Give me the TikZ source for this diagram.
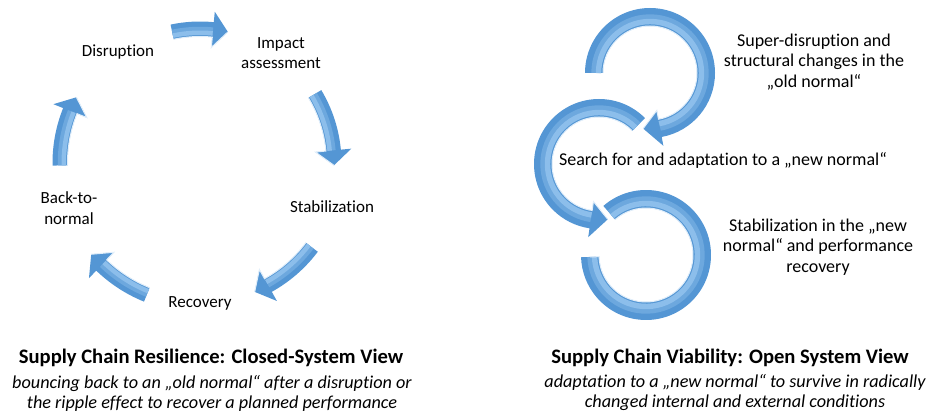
\documentclass[tikz,border=0pt]{standalone}
\usepackage{fontspec}
\setmainfont{Carlito}[Ligatures=NoCommon]
\usepackage{xcolor}
\usepackage{tikz}
\usetikzlibrary{calc,positioning}

\definecolor{arrowblue}{RGB}{84,150,212}
\definecolor{arrowshine}{RGB}{140,190,235}
\definecolor{arrowrim}{RGB}{225,238,250}

\tikzset{
    phase/.style={font=\fontsize{17}{20.5}\selectfont,align=center,inner sep=0pt},
    bigphase/.style={font=\fontsize{18}{20.5}\selectfont,align=center,inner sep=0pt},
    headline/.style={font=\fontsize{20.6}{22}\selectfont\bfseries,inner sep=0pt},
    subline/.style={font=\fontsize{18.2}{20}\selectfont\itshape,align=center,inner sep=0pt}
}

% #1 centre, #2 radius, #3 start angle, #4 tip angle,
% #5 shaft half width, #6 head half width, #7 head length
\newcommand{\bendarrow}[7]{%
    \pgfmathsetmacro{\bdir}{sign(#4-#3)}
    \pgfmathsetmacro{\bbase}{#4-\bdir*#7*180/(pi*#2)}
    \pgfmathsetmacro{\bout}{#2+#5}
    \pgfmathsetmacro{\bin}{#2-#5}
    \pgfmathsetmacro{\bhout}{#2+#6}
    \pgfmathsetmacro{\bhin}{#2-#6}
    \pgfmathsetmacro{\bmida}{#2-0.25*#5}
    \pgfmathsetmacro{\bmidb}{#2-0.5*#5}
    \pgfmathsetmacro{\bswa}{1.1*#5}
    \pgfmathsetmacro{\bswb}{0.6*#5}
    \fill[arrowblue] ($(#1)+(#3:\bout)$) arc[start angle=#3,end angle=\bbase,radius=\bout]
        -- ($(#1)+(\bbase:\bhout)$) -- ($(#1)+(#4:#2)$) -- ($(#1)+(\bbase:\bhin)$)
        -- ($(#1)+(\bbase:\bin)$) arc[start angle=\bbase,end angle=#3,radius=\bin] -- cycle;
    \draw[arrowblue!55!arrowshine,line width=\bswa pt] ($(#1)+(#3:\bmida)$) arc[start angle=#3,end angle=\bbase,radius=\bmida];
    \draw[arrowshine,line width=\bswb pt] ($(#1)+(#3:\bmidb)$) arc[start angle=#3,end angle=\bbase,radius=\bmidb];
    \draw[arrowrim,line width=1pt] ($(#1)+(#3:\bin)$) arc[start angle=#3,end angle=\bbase,radius=\bin]
        -- ($(#1)+(\bbase:\bhin)$) -- ($(#1)+(#4:#2)$);
}

\begin{document}
\begin{tikzpicture}[x=1pt,y=1pt]
    \useasboundingbox (0,0) rectangle (927,415);

    % Closed cycle
    \coordinate (cyc) at (200,252);
    \bendarrow{cyc}{134}{102}{78}{7.5}{18}{15}
    \bendarrow{cyc}{134}{31}{-1}{7.5}{18}{15}
    \bendarrow{cyc}{140}{-37}{-67}{7.5}{18}{15}
    \bendarrow{cyc}{142}{-112}{-140}{7.5}{18}{15}
    \bendarrow{cyc}{140}{181}{152}{7.5}{18}{15}

    \node[phase] (disrupt) at (118,363) {Disruption};
    \node[phase] (impact) at (281,362) {Impact\\assessment};
    \node[phase] (stab) at (332,208) {Stabilization};
    \node[phase] (recov) at (200,112) {Recovery};
    \node[phase] (back) at (69,207) {Back-to-\\normal};

    % Open spiral
    \coordinate (ringA) at (650,342);
    \coordinate (ringB) at (599,251);
    \coordinate (ringC) at (646,160);
    \bendarrow{ringC}{56}{131}{-178}{9}{9}{0}
    \bendarrow{ringB}{56}{45}{279}{9}{18}{17}
    \bendarrow{ringA}{56}{180}{-97}{9}{18}{17}

    \node[bigphase] (super) at (814,353) {Super-disruption and\\structural changes in the\\„old normal“};
    \node[bigphase] (search) at (723,255) {Search for and adaptation to a „new normal“};
    \node[bigphase] (newnorm) at (818,168) {Stabilization in the „new\\normal“ and performance\\recovery};

    % Captions
    \node[headline] (closedtitle) at (211,57) {Supply Chain Resilience: Closed-System View};
    \node[subline] (closedsub) at (212,22) {bouncing back to an „old normal“ after a disruption or\\the ripple effect to recover a planned performance};
    \node[headline] (opentitle) at (730,57) {Supply Chain Viability: Open System View};
    \node[subline] (opensub) at (735,22) {adaptation to a „new normal“ to survive in radically\\changed internal and external conditions};
\end{tikzpicture}
\end{document}
